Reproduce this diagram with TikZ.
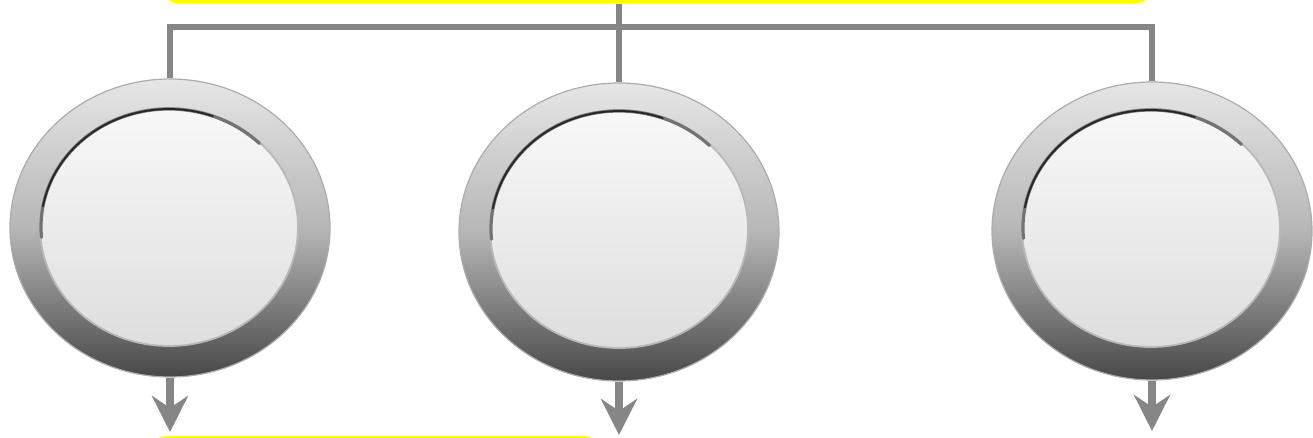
\documentclass[tikz,border=0pt]{standalone}
\usetikzlibrary{arrows.meta,positioning,shapes.geometric}
\definecolor{ringtop}{RGB}{230,230,230}
\definecolor{ringmid}{RGB}{182,182,182}
\definecolor{ringbot}{RGB}{72,72,72}
\definecolor{disctop}{RGB}{248,248,248}
\definecolor{discbot}{RGB}{222,222,222}
\definecolor{linkgray}{RGB}{134,134,134}
\definecolor{boxyellow}{RGB}{255,255,0}
\begin{document}
\begin{tikzpicture}[x=.5pt,y=.5pt,
  ring/.style={ellipse,inner sep=0pt,minimum width=160pt,minimum height=149pt,draw=gray!65,line width=.6pt,top color=ringtop,bottom color=ringbot,middle color=ringmid},
  disc/.style={ellipse,inner sep=0pt,minimum width=129pt,minimum height=119pt,draw=gray!55,line width=.9pt,top color=disctop,bottom color=discbot},
  rim/.style={draw=black!55,line width=1.6pt,line cap=round},
  rimdark/.style={draw=black!85,line width=.9pt,line cap=round},
  box/.style={fill=boxyellow,rounded corners=10pt,inner sep=0pt},
  link/.style={draw=linkgray,line width=3.4pt},
  flow/.style={draw=linkgray,line width=4pt,-{Stealth[length=18pt,width=18pt,inset=6pt]}}]
\useasboundingbox (0,0) rectangle (1313,438);
\clip (0,0) rectangle (1313,438);
\node[box,minimum width=497.5pt,minimum height=20.5pt] (top) at (657.5,455) {};
\node[box,minimum width=228.5pt,minimum height=20pt] (bot) at (375.5,-18) {};
\node[ring] (c1) at (170,210) {};
\node[ring] (c2) at (619,206) {};
\node[ring] (c3) at (1152,207) {};
\node[disc] (i1) at (169,211) {};
\node[disc] (i2) at (619,209) {};
\node[disc] (i3) at (1151,210) {};
\draw[rim] ([shift={(185:64pt and 59pt)}]i1.center) arc[start angle=185,end angle=45,x radius=64pt,y radius=59pt];
\draw[rim] ([shift={(185:64pt and 59pt)}]i2.center) arc[start angle=185,end angle=45,x radius=64pt,y radius=59pt];
\draw[rim] ([shift={(185:64pt and 59pt)}]i3.center) arc[start angle=185,end angle=45,x radius=64pt,y radius=59pt];
\draw[rimdark] ([shift={(170:64pt and 59pt)}]i1.center) arc[start angle=170,end angle=70,x radius=64pt,y radius=59pt];
\draw[rimdark] ([shift={(170:64pt and 59pt)}]i2.center) arc[start angle=170,end angle=70,x radius=64pt,y radius=59pt];
\draw[rimdark] ([shift={(170:64pt and 59pt)}]i3.center) arc[start angle=170,end angle=70,x radius=64pt,y radius=59pt];
\coordinate (hub) at (c2.north |- 0,411);
\coordinate (a1) at (170,6);
\coordinate (a2) at (619,3);
\coordinate (a3) at (1152,7);
\draw[link] (top.south -| c2.north) -- (c2.north);
\draw[link] (c1.north) |- (hub) -| (c3.north);
\draw[flow] (c1.south) -- (a1);
\draw[flow] (c2.south) -- (a2);
\draw[flow] (c3.south) -- (a3);
\end{tikzpicture}
\end{document}
